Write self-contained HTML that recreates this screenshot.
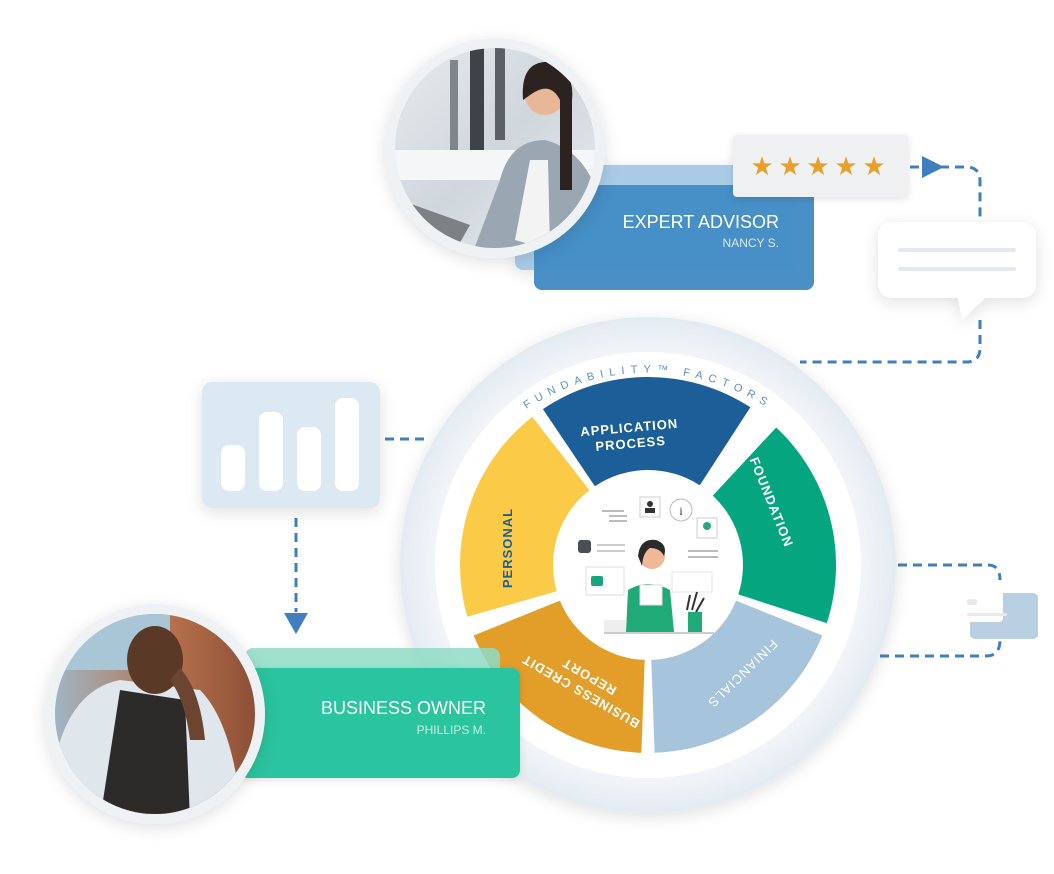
<!DOCTYPE html>
<html><head><meta charset="utf-8"><style>
html,body{margin:0;padding:0;background:#fff;}
body{width:1054px;height:869px;overflow:hidden;font-family:"Liberation Sans",sans-serif;}
</style></head><body>
<svg width="1054" height="869" viewBox="0 0 1054 869" xmlns="http://www.w3.org/2000/svg" font-family="Liberation Sans, sans-serif">
<defs>
<filter id="sh" x="-30%" y="-30%" width="160%" height="160%"><feDropShadow dx="0" dy="4" stdDeviation="8" flood-color="#000" flood-opacity="0.12"/></filter>
<filter id="sh2" x="-30%" y="-30%" width="160%" height="160%"><feDropShadow dx="0" dy="2" stdDeviation="4" flood-color="#000" flood-opacity="0.12"/></filter>
<radialGradient id="ring" cx="0.5" cy="0.5" r="0.5"><stop offset="0.85" stop-color="#f3f6f9"/><stop offset="1" stop-color="#e3ebf2"/></radialGradient>
<linearGradient id="ph1" x1="0" y1="0" x2="1" y2="1"><stop offset="0" stop-color="#e8ecef"/><stop offset="0.5" stop-color="#cfd6dc"/><stop offset="1" stop-color="#eef0f2"/></linearGradient>
<linearGradient id="ph2" x1="0" y1="0" x2="1" y2="0"><stop offset="0" stop-color="#9fb8c8"/><stop offset="0.6" stop-color="#b46f4a"/><stop offset="1" stop-color="#8a4e35"/></linearGradient>
<clipPath id="c1"><circle cx="495" cy="148" r="100"/></clipPath>
<clipPath id="c2"><circle cx="155" cy="714" r="100"/></clipPath>
<path id="arcT" d="M 428 565 A 222 222 0 0 1 868 565"/>
</defs>

<!-- dashed connectors -->
<g fill="none" stroke="#3f7fbf" stroke-width="3" stroke-dasharray="9,6">
<path d="M 910 167 L 966 167 Q 980 167 980 181 L 980 225"/>
<path d="M 980 320 L 980 348 Q 980 362 966 362 L 800 362"/>
<path d="M 385 439 L 430 439"/>
<path d="M 296 518 L 296 612"/>
<path d="M 898 565 L 988 565 Q 1000 565 1000 580"/>
<path d="M 880 656 L 986 656 Q 1000 656 1000 640"/>
</g>
<polygon points="922,156 944,167 922,178" fill="#3f7fbf"/>
<polygon points="284,613 308,613 296,634" fill="#3f7fbf"/>

<!-- big wheel -->
<circle cx="648" cy="565" r="248" fill="url(#ring)" filter="url(#sh)"/>
<circle cx="648" cy="565" r="213" fill="#fff"/>
<text font-size="11" fill="#5b8fc4" letter-spacing="6"><textPath href="#arcT" startOffset="50%" text-anchor="middle">FUNDABILITY™ FACTORS</textPath></text>

<path d="M542.9,409.1 A188 188 0 0 1 750.4,407.3 L699.8,485.3 A95 95 0 0 0 594.9,486.2 Z" fill="#1c5e97"/>
<path d="M776.2,427.5 A188 188 0 0 1 826.8,623.1 L738.3,594.4 A95 95 0 0 0 712.8,495.6 Z" fill="#05a67f"/>
<path d="M822.3,635.5 A188 188 0 0 1 654.6,752.8 L651.3,659.9 A95 95 0 0 0 736.1,600.6 Z" fill="#a6c4db"/>
<path d="M641.4,752.8 A188 188 0 0 1 473.7,635.5 L559.9,600.6 A95 95 0 0 0 644.7,659.9 Z" fill="#e39d29"/>
<path d="M467.3,616.8 A188 188 0 0 1 532.2,416.9 L589.5,490.1 A95 95 0 0 0 556.7,591.2 Z" fill="#fbca47"/>

<g fill="#fff" font-size="13" font-weight="bold" letter-spacing="1" text-anchor="middle">
<g transform="translate(630,436) rotate(-5)"><text y="-4">APPLICATION</text><text y="12">PROCESS</text></g>
<text transform="translate(772,502) rotate(68)" y="5">FOUNDATION</text>
<text transform="translate(743,674) rotate(136)" y="5" font-weight="normal">FINIANCIALS</text>
<g transform="translate(585,684) rotate(210)"><text y="-4">BUSINESS CREDIT</text><text y="13">REPORT</text></g>
</g>
<text transform="translate(507,548) rotate(-90)" y="5" font-size="13" font-weight="bold" letter-spacing="1" fill="#1c5e97" text-anchor="middle">PERSONAL</text>

<!-- center illustration -->
<g>
<rect x="602" y="510" width="22" height="2" fill="#bbb"/><rect x="609" y="515" width="18" height="2" fill="#bbb"/><rect x="609" y="520" width="18" height="2" fill="#bbb"/>
<rect x="640" y="497" width="20" height="20" fill="#fff" stroke="#ccc"/><circle cx="650" cy="504" r="3" fill="#333"/><rect x="645" y="508" width="10" height="5" fill="#333"/>
<circle cx="681" cy="510" r="11" fill="#fff" stroke="#bbb"/><text x="681" y="515" font-size="12" text-anchor="middle" fill="#333" font-family="Liberation Serif, serif">i</text>
<rect x="697" y="518" width="20" height="20" fill="#fff" stroke="#ccc"/><circle cx="707" cy="526" r="4" fill="#26a77d"/>
<rect x="578" y="540" width="13" height="13" rx="3" fill="#4a4f55"/>
<rect x="597" y="544" width="28" height="2" fill="#ccc"/><rect x="597" y="550" width="28" height="2" fill="#ccc"/>
<rect x="688" y="550" width="30" height="2" fill="#bbb"/><rect x="688" y="556" width="30" height="2" fill="#bbb"/>
<rect x="586" y="567" width="38" height="28" fill="#fff" stroke="#ddd"/><rect x="591" y="576" width="12" height="10" rx="2" fill="#16a57c"/>
<rect x="672" y="572" width="40" height="20" fill="#fff" stroke="#e4e4e4"/>
<path d="M626 632 L628 590 Q648 578 670 590 L674 632 Z" fill="#1faa78"/>
<circle cx="652" cy="556" r="13" fill="#f0b896"/><path d="M638 556 Q640 538 656 540 Q668 544 664 556 Q660 548 650 548 Q643 552 642 566 Z" fill="#2b2b2b"/>
<rect x="640" y="585" width="22" height="20" fill="#fff" stroke="#ddd"/>
<path d="M687 610 L690 595 M692 610 L697 592 M696 612 L704 598" stroke="#333" stroke-width="2"/><rect x="688" y="612" width="14" height="20" fill="#1faa78"/>
<rect x="604" y="620" width="22" height="12" fill="#eee"/><rect x="604" y="632" width="110" height="2" fill="#ccc"/>
</g>

<!-- Expert advisor -->
<rect x="515" y="165" width="280" height="105" rx="8" fill="#a9cbe6" filter="url(#sh)"/>
<rect x="534" y="185" width="280" height="105" rx="8" fill="#4a8fc6"/>
<rect x="534" y="185" width="260" height="85" rx="6" fill="#4490c8" opacity="0.6"/>
<text x="779" y="228" font-size="18" fill="#fff" text-anchor="end">EXPERT ADVISOR</text>
<text x="779" y="247" font-size="12" fill="#d9e8f4" text-anchor="end">NANCY S.</text>

<circle cx="495" cy="148" r="110" fill="#eef2f5" filter="url(#sh)"/>
<g clip-path="url(#c1)">
<rect x="390" y="40" width="210" height="220" fill="url(#ph1)"/>
<rect x="470" y="40" width="14" height="110" fill="#3d4348"/><rect x="495" y="40" width="10" height="100" fill="#5a6066"/><rect x="450" y="60" width="8" height="90" fill="#7e858b"/>
<rect x="395" y="150" width="200" height="30" fill="#f4f6f7"/>
<path d="M500 180 Q510 140 545 140 Q585 150 600 200 L600 260 L470 260 Z" fill="#9aa6b1"/>
<path d="M515 240 L530 160 L548 160 L550 250 Z" fill="#f3f3f3"/>
<circle cx="545" cy="95" r="20" fill="#e7b797"/><path d="M523 100 Q520 60 550 62 Q575 70 572 100 L572 190 L560 190 L560 100 Q550 80 530 95 Z" fill="#2c2220"/>
<path d="M400 200 L470 225 L450 260 L395 255 Z" fill="#7d8186"/>
</g>

<!-- stars -->
<rect x="733" y="135" width="175" height="62" rx="4" fill="#eef0f2" filter="url(#sh2)"/>
<g fill="#e8a02a" font-size="26" text-anchor="middle">
<text x="762" y="175">★</text><text x="790" y="175">★</text><text x="818" y="175">★</text><text x="846" y="175">★</text><text x="874" y="175">★</text>
</g>

<!-- chat bubble -->
<g filter="url(#sh)">
<path d="M894 222 L1020 222 Q1036 222 1036 238 L1036 282 Q1036 298 1020 298 L985 298 L962 320 L958 298 L894 298 Q878 298 878 282 L878 238 Q878 222 894 222 Z" fill="#fff"/>
</g>
<rect x="898" y="248" width="118" height="4" rx="2" fill="#e3e8f3"/>
<rect x="898" y="267" width="118" height="4" rx="2" fill="#e3e8f3"/>

<!-- bar card -->
<rect x="202" y="382" width="178" height="126" rx="10" fill="#dce9f2" filter="url(#sh)"/>
<g fill="#fff">
<rect x="221" y="445" width="24" height="46" rx="8"/>
<rect x="259" y="412" width="24" height="79" rx="8"/>
<rect x="297" y="427" width="24" height="64" rx="8"/>
<rect x="335" y="398" width="24" height="93" rx="8"/>
</g>

<!-- right small card -->
<rect x="970" y="593" width="68" height="46" rx="5" fill="#b9d0e3"/>
<rect x="955" y="590" width="48" height="32" rx="4" fill="#fff"/>
<rect x="967" y="599" width="10" height="6" rx="2" fill="#e6eaee"/>
<rect x="967" y="613" width="40" height="3" rx="1.5" fill="#e6eaee"/>

<!-- Business owner -->
<rect x="245" y="648" width="255" height="100" rx="8" fill="#8fdcc6" opacity="0.85"/>
<rect x="240" y="668" width="280" height="110" rx="8" fill="#2cc49e" filter="url(#sh2)"/>
<text x="486" y="714" font-size="18" fill="#fff" text-anchor="end">BUSINESS OWNER</text>
<text x="486" y="734" font-size="12" fill="#c9efe3" text-anchor="end">PHILLIPS M.</text>

<circle cx="155" cy="714" r="110" fill="#eef2f5" filter="url(#sh)"/>
<g clip-path="url(#c2)">
<rect x="50" y="610" width="210" height="210" fill="url(#ph2)"/>
<rect x="50" y="610" width="120" height="60" fill="#a9c6d6"/>
<path d="M55 760 Q70 690 120 680 L200 690 Q230 720 240 800 L240 820 L55 820 Z" fill="#dfe6ec"/>
<path d="M120 690 L185 700 L190 820 L100 820 Z" fill="#2d2a2a"/>
<ellipse cx="155" cy="660" rx="28" ry="34" fill="#5a3a26"/>
<path d="M170 680 Q185 700 190 740 L205 740 Q200 690 180 668 Z" fill="#6b4530"/>
</g>
</svg>
</body></html>
